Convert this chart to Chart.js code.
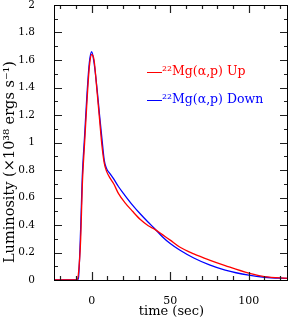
<!DOCTYPE html>
<html lang="en">
<head>
    <meta charset="UTF-8">
    <title>Luminosity</title>
    <style>
        body { margin: 0; background: #fff; }
        canvas { display: block; }
    </style>
</head>
<body>
    <canvas id="lumChart" width="289" height="319"></canvas>

    <script src="https://cdn.jsdelivr.net/npm/chart.js"></script>
    <script>
        // time (sec) samples
        const time = [-24, -9.5, -8.5, -7, -6, -4.5, -3, -1.5, 0, 1.5, 3.5, 5, 6.5, 8, 9.5, 11.5, 14, 17, 21, 26, 31, 36, 40, 45, 50, 56, 65, 75, 85, 100, 110, 125];
        // 22Mg(a,p) Up (red)
        const lumUp = [0, 0, 0.04, 0.3, 0.68, 1.0, 1.3, 1.55, 1.64, 1.6, 1.36, 1.17, 0.98, 0.85, 0.79, 0.745, 0.7, 0.63, 0.565, 0.5, 0.44, 0.395, 0.37, 0.33, 0.29, 0.24, 0.19, 0.145, 0.105, 0.05, 0.025, 0.012];
        // 22Mg(a,p) Down (blue)
        const lumDown = [0, 0, 0.01, 0.38, 0.75, 1.05, 1.35, 1.58, 1.66, 1.58, 1.38, 1.2, 1.03, 0.87, 0.81, 0.775, 0.735, 0.68, 0.618, 0.545, 0.48, 0.42, 0.375, 0.315, 0.265, 0.218, 0.16, 0.11, 0.072, 0.035, 0.02, 0.012];
        const seriesNames = ['\u00b2\u00b2Mg(\u03b1,p) Up', '\u00b2\u00b2Mg(\u03b1,p) Down'];
        const xLabels = [0, 50, 100];

        const serif = '"DejaVu Serif", serif';

        // frame, inward ticks on all four sides, titles and the legend
        const decor = {
            id: 'decor',
            afterDraw(chart) {
                const ctx = chart.ctx;
                const a = chart.chartArea;
                const xs = chart.scales.x, ys = chart.scales.y;
                ctx.save();
                ctx.lineWidth = 1.2;
                ctx.strokeStyle = '#222';
                ctx.beginPath();
                for (let v = -20; v <= 120; v += 10) {
                    const px = Math.round(xs.getPixelForValue(v)) + 0.5;
                    const len = v % 50 === 0 ? 8 : 4;
                    ctx.moveTo(px, a.bottom);
                    ctx.lineTo(px, a.bottom - len);
                    ctx.moveTo(px, a.top);
                    ctx.lineTo(px, a.top + len);
                }
                for (let i = 1; i < 20; i++) {
                    const py = Math.round(ys.getPixelForValue(i / 10)) + 0.5;
                    const len = i % 2 === 0 ? 8 : 4;
                    ctx.moveTo(a.left, py);
                    ctx.lineTo(a.left + len, py);
                    ctx.moveTo(a.right, py);
                    ctx.lineTo(a.right - len, py);
                }
                ctx.stroke();

                ctx.lineWidth = 1;
                ctx.strokeStyle = '#000';
                ctx.strokeRect(Math.round(a.left) + 0.5, Math.round(a.top) + 0.5,
                    Math.round(a.right - a.left) - 1, Math.round(a.bottom - a.top));

                // axis titles
                ctx.fillStyle = '#000';
                ctx.textAlign = 'center';
                ctx.textBaseline = 'middle';
                ctx.font = '13px ' + serif;
                ctx.fillText('time (sec)', 171.5, 312);
                ctx.save();
                ctx.translate(10, 162);
                ctx.rotate(-Math.PI / 2);
                ctx.font = '14.5px ' + serif;
                ctx.fillText('Luminosity (\u00d710\u00b3\u2078 ergs s\u207b\u00b9)', 0, 0);
                ctx.restore();

                // legend
                const colors = ['#ff0000', '#0000ff'];
                const rows = [72, 100];
                ctx.textAlign = 'left';
                ctx.font = '12.5px ' + serif;
                seriesNames.forEach((name, i) => {
                    ctx.strokeStyle = colors[i];
                    ctx.beginPath();
                    ctx.moveTo(147, rows[i] + 0.5);
                    ctx.lineTo(162, rows[i] + 0.5);
                    ctx.stroke();
                    ctx.fillStyle = colors[i];
                    ctx.fillText(name, 162, rows[i]);
                });
                ctx.restore();
            }
        };

        new Chart(document.getElementById('lumChart'), {
            type: 'line',
            data: {
                datasets: [
                    {
                        label: seriesNames[0],
                        data: time.map((t, i) => ({ x: t, y: lumUp[i] })),
                        borderColor: '#ff0000',
                        borderWidth: 1.3,
                        pointRadius: 0,
                        cubicInterpolationMode: 'monotone',
                        fill: false
                    },
                    {
                        label: seriesNames[1],
                        data: time.map((t, i) => ({ x: t, y: lumDown[i] })),
                        borderColor: '#0000ff',
                        borderWidth: 1.3,
                        pointRadius: 0,
                        cubicInterpolationMode: 'monotone',
                        fill: false
                    }
                ]
            },
            options: {
                responsive: false,
                animation: false,
                layout: { padding: { top: 5, right: 1, left: 0, bottom: 0 } },
                plugins: {
                    legend: { display: false },
                    tooltip: { enabled: false }
                },
                scales: {
                    x: {
                        type: 'linear',
                        min: -24,
                        max: 125,
                        grid: { display: false },
                        border: { display: false },
                        afterFit(scale) {
                            scale.height = 39;
                            scale.paddingLeft = 0;
                            scale.paddingRight = 0;
                        },
                        afterBuildTicks(scale) {
                            scale.ticks = xLabels.map(v => ({ value: v }));
                        },
                        ticks: {
                            color: '#000',
                            padding: 7,
                            maxRotation: 0,
                            autoSkip: false,
                            font: { family: serif, size: 11 }
                        }
                    },
                    y: {
                        min: 0,
                        max: 2,
                        grid: { display: false },
                        border: { display: false },
                        afterFit(scale) {
                            scale.width = 54;
                            scale.paddingTop = 0;
                            scale.paddingBottom = 0;
                        },
                        ticks: {
                            stepSize: 0.2,
                            color: '#000',
                            padding: 11,
                            font: { family: serif, size: 10.5 },
                            callback: v => String(Number(v.toFixed(1)))
                        }
                    }
                }
            },
            plugins: [decor]
        });
    </script>
</body>
</html>
